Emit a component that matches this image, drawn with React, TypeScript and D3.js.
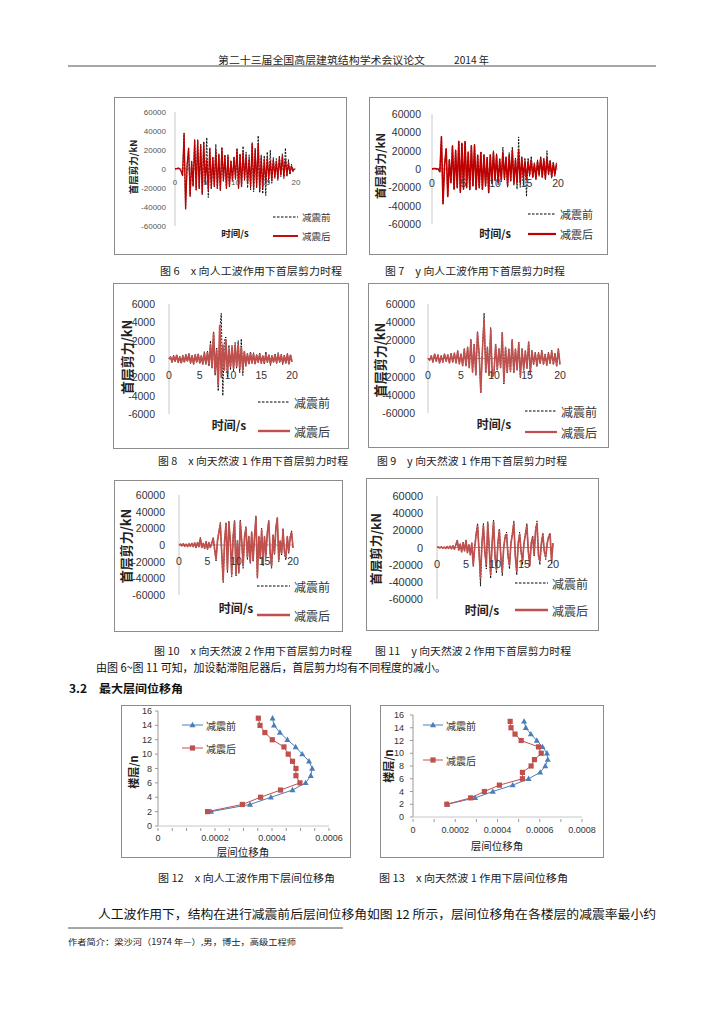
import React from 'react';
import * as d3 from 'd3';

// sampling step of the digitised shear histories (s)
const DT = 0.25;

const shearTicks = [-60000, -40000, -20000, 0, 20000, 40000, 60000];
const shearTicksSmall = [-6000, -4000, -2000, 0, 2000, 4000, 6000];
const timeTicks = [0, 5, 10, 15, 20];
const floorTicks = [0, 2, 4, 6, 8, 10, 12, 14, 16];
const driftTicks12 = [0, 0.0002, 0.0004, 0.0006];
const driftTicks13 = [0, 0.0002, 0.0004, 0.0006, 0.0008];
const seriesNames = ['减震前', '减震后'];

// 图6 x向人工波 (kN)
const f6Before = [0, 500, 1000, 500, -2000, -7000, 38000, -42000, 4000, 22000,
  -29000, 8000, -18000, 31000, -22000, 31000, -21000, 26000, -27000, 29000,
  -16000, 33000, -30000, 22000, -21000, 13000, -19000, 26000, -21000, 16000,
  -23000, 23000, -13000, 15000, -21000, 15000, -19000, 9000, -13000, 13000,
  -11000, 22000, -21000, 16000, -19000, 24000, -12000, 18000, -20000, 15000,
  -22000, 28000, -24000, 22000, -20000, 35000, -25000, 15000, -26000, 14000,
  -28000, 18000, -15000, 20000, -15000, 12000, -10000, 11000, -12000, 14000,
  -8000, 16000, -10000, 22000, -8000, 10000, -6000, 5000, -3000, 1000];
const f6After = [0, 500, 1000, 500, -2000, -7000, 37000, -42000, 4000, 22000,
  -28000, 8000, -18000, 30000, -22000, 30000, -20000, 25000, -26000, 28000,
  -15000, 10000, -22000, 22000, -20000, 12000, -18000, 20000, -20000, 15000,
  -22000, 22000, -12000, 14000, -20000, 14000, -18000, 8000, -12000, 12000,
  -10000, 20000, -20000, 15000, -18000, 18000, -10000, 14000, -15000, 10000,
  -18000, 26000, -20000, 20000, -18000, 27000, -22000, 12000, -20000, 10000,
  -15000, 12000, -10000, 8000, -12000, 10000, -8000, 8000, -10000, 12000,
  -6000, 14000, -8000, 10000, -6000, 6000, -4000, 3000, -2000, 0];

// 图7 y向人工波
const f7Before = [0, 500, 500, 0, 0, -3000, 36000, -38000, 5000, 22000,
  -30000, 10000, -15000, 26000, -22000, 21000, -21000, 31000, -26000, 28000,
  -22000, 30000, -21000, 19000, -23000, 26000, -19000, 27000, -23000, 16000,
  -21000, 19000, -23000, 16000, -19000, 13000, -27000, 16000, -16000, 20000,
  -13000, 17000, -17000, 12000, -14000, 24000, -12000, 14000, -20000, 18000,
  -14000, 24000, -18000, 12000, -22000, 35000, -20000, 14000, -18000, 12000,
  -30000, 12000, -8000, 14000, -10000, 7000, -12000, 10000, -8000, 14000,
  -10000, 12000, -12000, 20000, -7000, 10000, -10000, 8000, -8000, 7000];
const f7After = [0, 500, 500, 0, 0, -3000, 35000, -38000, 5000, 22000,
  -30000, 10000, -15000, 25000, -22000, 20000, -20000, 30000, -25000, 28000,
  -22000, 30000, -20000, 18000, -22000, 25000, -18000, 26000, -22000, 15000,
  -20000, 18000, -22000, 15000, -18000, 12000, -25000, 15000, -15000, 18000,
  -12000, 15000, -15000, 10000, -12000, 18000, -10000, 12000, -18000, 15000,
  -12000, 20000, -15000, 10000, -15000, 20000, -15000, 12000, -10000, 8000,
  -12000, 8000, -6000, 10000, -8000, 5000, -10000, 8000, -6000, 12000,
  -8000, 10000, -10000, 12000, -5000, 8000, -8000, 6000, -6000, 5000];

// 图8 x向天然波1
const f8Before = [0, 300, -400, 400, -300, 500, -400, 300, -500, 400,
  -400, 500, -300, 600, -500, 400, -600, 500, -400, 600,
  -500, 400, -600, 800, -600, 900, -800, 2000, -1000, 3000,
  -1800, 1200, -3500, 3200, 5000, -4000, 2000, 2400, -2000, 1500,
  -1200, 1500, -1300, 1800, -1000, 2000, -1500, 2200, -1800, 800,
  -800, 600, -600, 800, -500, 700, -600, 500, -400, 700,
  -500, 400, -600, 800, -400, 500, -700, 400, -400, 600,
  -500, 700, -400, 500, -600, 400, -500, 600, -600, 500, -300];
const f8After = [0, 200, -300, 300, -200, 400, -300, 200, -400, 300,
  -300, 400, -200, 500, -400, 300, -500, 400, -300, 500,
  -400, 300, -500, 600, -500, 700, -600, 1500, -800, 2800,
  -1500, 1000, -2800, 3600, -2000, 1500, -1200, 2000, -1500, 1000,
  -800, 1200, -1000, 1500, -800, 1500, -1000, 1200, -1200, 800,
  -600, 500, -500, 600, -400, 500, -500, 400, -300, 500,
  -400, 300, -400, 500, -300, 400, -500, 300, -300, 400,
  -400, 500, -300, 400, -400, 300, -400, 500, -500, 400, -300];

// 图9 y向天然波1
const f9Before = [0, -2000, 3000, -4000, 5000, -3000, 4000, -5000, 3000, -4000,
  5000, -3000, 4000, -5000, 6000, -4000, 6000, -5000, 9000, -6000,
  5000, -8000, 11000, -8000, 13000, -10000, 21000, -15000, 16000, -18000,
  30000, 5000, -38000, 12000, 50000, -16000, 13000, -19000, 34000, -21000,
  -16000, 16000, -13000, 11000, -11000, 29000, -28000, 13000, -16000, 11000,
  -15000, 21000, -16000, 11000, -13000, 18000, -21000, 11000, -13000, 9000,
  -11000, 19000, -17000, 9000, -7000, 7000, -9000, 7000, -6000, 9000,
  -7000, 5000, -8000, 7000, -6000, 9000, -7000, 6000, -9000, 11000, -8000];
const f9After = [0, -2000, 3000, -4000, 5000, -3000, 4000, -5000, 3000, -4000,
  5000, -3000, 4000, -5000, 5000, -4000, 6000, -5000, 8000, -6000,
  5000, -8000, 10000, -8000, 12000, -10000, 20000, -15000, 15000, -18000,
  28000, 5000, -37000, 10000, 42000, -15000, 12000, -18000, 32000, -20000,
  -15000, 15000, -12000, 10000, -10000, 28000, -26000, 12000, -15000, 10000,
  -14000, 20000, -15000, 10000, -12000, 17000, -20000, 10000, -12000, 8000,
  -10000, 18000, -16000, 8000, -6000, 6000, -8000, 6000, -5000, 8000,
  -6000, 4000, -7000, 6000, -5000, 8000, -6000, 5000, -8000, 10000, -6000];

// 图10 x向天然波2
const f10Before = [0, 1000, -1000, 1500, -1500, 1000, -2000, 1500, -1500, 2000,
  -2000, 2500, -3000, 3000, -2000, 9000, -3000, 2000, -4000, 4000,
  -5000, 3000, -3000, 2000, 9000, -6000, -19000, 5000, 16000, 27000,
  -10000, -45000, 5000, 27000, -33000, 29000, 5000, -38000, 10000, 30000,
  -37000, 5000, -34000, 30000, 5000, -28000, 10000, 22000, -18000, 10000,
  -22000, 16000, -20000, 10000, 35000, -40000, 10000, -17000, 20000, -25000,
  10000, -14000, 16000, 30000, -12000, -28000, 12000, -12000, 22000, 33000,
  -20000, 5000, -12000, 20000, -10000, -18000, 10000, -10000, 10000, 17000, -4000];
const f10After = [0, 1000, -1000, 1500, -1500, 1000, -2000, 1500, -1500, 2000,
  -2000, 2500, -3000, 3000, -2000, 8000, -3000, 2000, -4000, 4000,
  -5000, 3000, -3000, 2000, 8000, -5000, -17000, 5000, 15000, 25000,
  -10000, -42000, 5000, 25000, -30000, 27000, 5000, -35000, 10000, 28000,
  -35000, 5000, -32000, 28000, 5000, -25000, 10000, 20000, -15000, 10000,
  -20000, 15000, -18000, 10000, 33000, -38000, 10000, -15000, 18000, -22000,
  10000, -12000, 15000, 28000, -10000, -25000, 12000, -10000, 20000, 32000,
  -18000, 5000, -10000, 18000, -8000, -15000, 10000, -8000, 8000, 15000, -3000];

// 图11 y向天然波2
const f11Before = [0, 500, -500, 800, -800, 500, -1000, 1000, -1000, 1500,
  -1500, 2000, -2000, 3000, 9000, -3000, 4000, -5000, 6000, -4000,
  9000, -6000, 3000, -9000, 5000, -22000, 0, 17000, 28000, -5000,
  -45000, 5000, 28000, -5000, -25000, 30000, 0, -36000, 5000, 32000,
  -10000, -30000, 5000, 22000, -10000, -33000, 0, 14000, 18000, -10000,
  -25000, 5000, 17000, 31000, -10000, -32000, 5000, 18000, -5000, -20000,
  5000, 17000, 28000, -5000, -22000, 5000, 14000, -10000, 22000, 31000,
  -10000, -20000, 5000, 17000, -5000, -14000, 5000, 14000, 17000, -18000, 5000];
const f11After = [0, 500, -500, 800, -800, 500, -1000, 1000, -1000, 1500,
  -1500, 2000, -2000, 3000, 8000, -3000, 4000, -5000, 5000, -4000,
  8000, -6000, 3000, -8000, 5000, -20000, 0, 15000, 25000, -5000,
  -35000, 5000, 25000, -5000, -20000, 28000, 0, -32000, 5000, 30000,
  -10000, -25000, 5000, 20000, -10000, -28000, 0, 12000, 15000, -10000,
  -20000, 5000, 15000, 28000, -10000, -28000, 5000, 15000, -5000, -15000,
  5000, 15000, 25000, -5000, -20000, 5000, 12000, -8000, 20000, 28000,
  -10000, -15000, 5000, 15000, -5000, -10000, 5000, 12000, 15000, -15000, 5000];

// 层间位移角
const floors = [15, 14, 13, 12, 11, 10, 9, 8, 7, 6, 5, 4, 3, 2];
const d12Before = [0.000402, 0.000407, 0.000428, 0.000454, 0.000483, 0.000506, 0.00053,
  0.000541, 0.000536, 0.000518, 0.000472, 0.000396, 0.000323, 0.000186];
const d12After = [0.000352, 0.000358, 0.000375, 0.000401, 0.000442, 0.000457, 0.000472,
  0.000484, 0.000484, 0.000498, 0.00043, 0.00036, 0.000296, 0.000174];
const d13Before = [0.000526, 0.000534, 0.000558, 0.000586, 0.000613, 0.000634, 0.000638,
  0.000626, 0.000602, 0.000547, 0.000472, 0.000378, 0.000294, 0.000163];
const d13After = [0.00046, 0.000464, 0.000483, 0.000512, 0.000594, 0.000607, 0.000575,
  0.000559, 0.000518, 0.000518, 0.000409, 0.000338, 0.000273, 0.00016];

const SANS = '"Liberation Sans", Arial, sans-serif';
const CJK = '"Noto Sans CJK SC", sans-serif';

type TimeCfg = {
  box: [number, number, number, number];
  x0: number; x1: number; yTop: number; yBot: number;
  ticks: number[];
  tickSize: number; tickGap: number; xTickDy: number; tickColor: string;
  yLab: [number, number, number];
  xLab: [number, number, number];
  leg: [number, number, number, number, number];
  afterColor: string; afterWidth: number;
  before: number[]; after: number[];
};

function TimeChart({ c }: { c: TimeCfg }) {
  const [bx, by, bw, bh] = c.box;
  const yMax = d3.max(c.ticks) as number;
  const x = d3.scaleLinear().domain([0, 20]).range([c.x0, c.x1]);
  const y = d3.scaleLinear().domain([-yMax, yMax]).range([c.yBot, c.yTop]);
  const line = d3.line<number>().x((_, i) => x(i * DT)).y((d) => y(d));
  const [lx1, lx2, ly1, ly2, ls] = c.leg;
  return (
    <g>
      <rect x={bx + 0.5} y={by + 0.5} width={bw} height={bh} fill="#fff" stroke="#8c8c8c" />
      <line x1={c.x0} x2={c.x0} y1={c.yTop} y2={c.yBot} stroke="#c8c8c8" />
      <line x1={c.x0} x2={c.x1} y1={y(0)} y2={y(0)} stroke="#9a9a9a" />
      {c.ticks.map((t) => (
        <text key={t} x={c.x0 - c.tickGap} y={y(t)} textAnchor="end" dominantBaseline="central"
          fontFamily={SANS} fontSize={c.tickSize} fill={c.tickColor}>{t}</text>
      ))}
      <path d={line(c.before) || ''} fill="none" stroke="#000" strokeWidth={0.9} strokeDasharray="2,1.2" />
      <path d={line(c.after) || ''} fill="none" stroke={c.afterColor} strokeWidth={c.afterWidth} strokeLinejoin="round" />
      {timeTicks.map((t) => (
        <text key={t} x={x(t)} y={y(0) + c.xTickDy} textAnchor="middle" dominantBaseline="central"
          fontFamily={SANS} fontSize={c.tickSize} fill={c.tickColor}>{t}</text>
      ))}
      <text transform={`translate(${c.yLab[0]},${c.yLab[1]}) rotate(-90)`} textAnchor="middle"
        dominantBaseline="central" fontFamily={CJK} fontWeight={700} fontSize={c.yLab[2]} fill="#222">首层剪力/kN</text>
      <text x={c.xLab[0]} y={c.xLab[1]} textAnchor="middle" dominantBaseline="central"
        fontFamily={CJK} fontWeight={700} fontSize={c.xLab[2]} fill="#222">时间/s</text>
      <line x1={lx1} x2={lx2} y1={ly1} y2={ly1} stroke="#000" strokeWidth={1.2} strokeDasharray="2.5,1.5" />
      <text x={lx2 + 4} y={ly1} dominantBaseline="central" fontFamily={CJK} fontSize={ls} fill="#333">{seriesNames[0]}</text>
      <line x1={lx1} x2={lx2} y1={ly2} y2={ly2} stroke={c.afterColor} strokeWidth={c.afterWidth + 0.6} />
      <text x={lx2 + 4} y={ly2} dominantBaseline="central" fontFamily={CJK} fontSize={ls} fill="#333">{seriesNames[1]}</text>
    </g>
  );
}

type DriftCfg = {
  box: [number, number, number, number];
  x0: number; x1: number; yTop: number; yBot: number;
  xTicks: number[]; minorStep: number;
  tickSize: number; tickGap: number; xTickDy: number;
  yLab: [number, number, number];
  xLab: [number, number, number];
  leg: [number, number, number, number, number];
  before: number[]; after: number[];
};

const BLUE = '#4a7ebb';
const RED = '#c0504d';

function Tri({ cx, cy }: { cx: number; cy: number }) {
  return <path d={`M${cx},${cy - 3.2}L${cx + 3},${cy + 2.2}L${cx - 3},${cy + 2.2}Z`} fill={BLUE} />;
}
function Sq({ cx, cy }: { cx: number; cy: number }) {
  return <rect x={cx - 2.6} y={cy - 2.6} width={5.2} height={5.2} fill={RED} />;
}

function DriftChart({ c }: { c: DriftCfg }) {
  const [bx, by, bw, bh] = c.box;
  const xMax = d3.max(c.xTicks) as number;
  const x = d3.scaleLinear().domain([0, xMax]).range([c.x0, c.x1]);
  const y = d3.scaleLinear().domain([0, 16]).range([c.yBot, c.yTop]);
  const line = d3.line<number>().x((d) => x(d)).y((_, i) => y(floors[i]));
  const minor = d3.range(0, xMax + 1e-9, c.minorStep);
  const [lx1, lx2, ly1, ly2, ls] = c.leg;
  return (
    <g>
      <rect x={bx + 0.5} y={by + 0.5} width={bw} height={bh} fill="#fff" stroke="#8c8c8c" />
      <line x1={c.x0} x2={c.x0} y1={c.yTop} y2={c.yBot} stroke="#9a9a9a" />
      <line x1={c.x0} x2={c.x1} y1={c.yBot} y2={c.yBot} stroke="#c8c8c8" />
      {floorTicks.map((t) => (
        <g key={t}>
          <line x1={c.x0 - 3} x2={c.x0} y1={y(t)} y2={y(t)} stroke="#9a9a9a" />
          <text x={c.x0 - c.tickGap} y={y(t)} textAnchor="end" dominantBaseline="central"
            fontFamily={SANS} fontSize={c.tickSize} fill="#333">{t}</text>
        </g>
      ))}
      {minor.map((m, i) => (
        <line key={i} x1={x(m)} x2={x(m)} y1={c.yBot + 2} y2={c.yBot + 5} stroke="#9a9a9a" />
      ))}
      {c.xTicks.map((t) => (
        <text key={t} x={x(t)} y={c.yBot + c.xTickDy} textAnchor="middle" dominantBaseline="central"
          fontFamily={SANS} fontSize={c.tickSize} fill="#333">{t}</text>
      ))}
      <path d={line(c.before) || ''} fill="none" stroke={BLUE} strokeWidth={1} />
      {c.before.map((d, i) => <Tri key={i} cx={x(d)} cy={y(floors[i])} />)}
      <path d={line(c.after) || ''} fill="none" stroke={RED} strokeWidth={1} />
      {c.after.map((d, i) => <Sq key={i} cx={x(d)} cy={y(floors[i])} />)}
      <text transform={`translate(${c.yLab[0]},${c.yLab[1]}) rotate(-90)`} textAnchor="middle"
        dominantBaseline="central" fontFamily={CJK} fontWeight={700} fontSize={c.yLab[2]} fill="#222">楼层/n</text>
      <text x={c.xLab[0]} y={c.xLab[1]} textAnchor="middle" dominantBaseline="central"
        fontFamily={CJK} fontSize={c.xLab[2]} fill="#222">层间位移角</text>
      <line x1={lx1} x2={lx2} y1={ly1} y2={ly1} stroke={BLUE} />
      <Tri cx={(lx1 + lx2) / 2} cy={ly1} />
      <text x={lx2 + 3} y={ly1} dominantBaseline="central" fontFamily={CJK} fontSize={ls} fill="#333">{seriesNames[0]}</text>
      <line x1={lx1} x2={lx2} y1={ly2} y2={ly2} stroke={RED} />
      <Sq cx={(lx1 + lx2) / 2} cy={ly2} />
      <text x={lx2 + 3} y={ly2} dominantBaseline="central" fontFamily={CJK} fontSize={ls} fill="#333">{seriesNames[1]}</text>
    </g>
  );
}

const charts: TimeCfg[] = [
  { box: [114, 97, 232, 157], x0: 175, x1: 296, yTop: 112, yBot: 226, ticks: shearTicks,
    tickSize: 8, tickGap: 9, xTickDy: 13, tickColor: '#555', yLab: [133, 167, 9.5], xLab: [235, 233, 9.5],
    leg: [273, 298, 217, 236, 9.5], afterColor: '#c00000', afterWidth: 1.3, before: f6Before, after: f6After },
  { box: [369, 97, 238, 157], x0: 432, x1: 558, yTop: 114, yBot: 224, ticks: shearTicks,
    tickSize: 10.5, tickGap: 11, xTickDy: 14, tickColor: '#333', yLab: [380, 166, 11.5], xLab: [495, 233, 11],
    leg: [528, 556, 214, 234, 11], afterColor: '#c00000', afterWidth: 1.6, before: f7Before, after: f7After },
  { box: [113, 283, 235, 165], x0: 169, x1: 292, yTop: 304, yBot: 414, ticks: shearTicksSmall,
    tickSize: 10.5, tickGap: 14, xTickDy: 16, tickColor: '#333', yLab: [126, 357, 13], xLab: [229, 424, 12],
    leg: [258, 290, 402, 431, 12], afterColor: RED, afterWidth: 1.8, before: f8Before, after: f8After },
  { box: [368, 283, 240, 164], x0: 428, x1: 560, yTop: 304, yBot: 413, ticks: shearTicks,
    tickSize: 10.5, tickGap: 13, xTickDy: 16, tickColor: '#333', yLab: [379, 360, 13], xLab: [494, 423, 12],
    leg: [525, 557, 411, 432, 12], afterColor: RED, afterWidth: 1.6, before: f9Before, after: f9After },
  { box: [114, 480, 228, 151], x0: 179, x1: 293, yTop: 495, yBot: 595, ticks: shearTicks,
    tickSize: 10.5, tickGap: 14, xTickDy: 16, tickColor: '#333', yLab: [125, 546, 13], xLab: [236, 607, 12],
    leg: [257, 290, 586, 615, 12], afterColor: RED, afterWidth: 1.7, before: f10Before, after: f10After },
  { box: [366, 478, 232, 152], x0: 437, x1: 553, yTop: 496, yBot: 599, ticks: shearTicks,
    tickSize: 11, tickGap: 14, xTickDy: 16, tickColor: '#333', yLab: [375, 549, 12.5], xLab: [482, 609, 12],
    leg: [515, 548, 583, 610, 12], afterColor: RED, afterWidth: 1.7, before: f11Before, after: f11After },
];

const drifts: DriftCfg[] = [
  { box: [121, 705, 229, 152], x0: 158, x1: 329, yTop: 711, yBot: 826, xTicks: driftTicks12, minorStep: 0.00005,
    tickSize: 9, tickGap: 6, xTickDy: 12, yLab: [133, 772, 11], xLab: [243, 851, 10.5],
    leg: [182, 203, 725, 748, 10], before: d12Before, after: d12After },
  { box: [380, 705, 223, 152], x0: 413, x1: 582, yTop: 715, yBot: 817, xTicks: driftTicks13, minorStep: 0.0001,
    tickSize: 9, tickGap: 9, xTickDy: 13, yLab: [388, 766, 11], xLab: [497, 845, 10.5],
    leg: [423, 443, 725, 760, 10], before: d13Before, after: d13After },
];

const captions: [string, number, number, number][] = [
  ['图 6　x 向人工波作用下首层剪力时程', 160, 342, 270],
  ['图 7　y 向人工波作用下首层剪力时程', 385, 565, 270],
  ['图 8　x 向天然波 1 作用下首层剪力时程', 158, 348, 460],
  ['图 9　y 向天然波 1 作用下首层剪力时程', 377, 567, 460],
  ['图 10　x 向天然波 2 作用下首层剪力时程', 154, 352, 650],
  ['图 11　y 向天然波 2 作用下首层剪力时程', 375, 571, 650],
  ['图 12　x 向人工波作用下层间位移角', 158, 335, 877],
  ['图 13　x 向天然波 1 作用下层间位移角', 379, 568, 877],
];

export default function App() {
  return (
    <svg width={724} height={1024} style={{ position: 'absolute', left: 0, top: 0, background: '#fff' }}>
      <rect width={724} height={1024} fill="#fff" />
      <text x={218} y={59} textLength={207} lengthAdjust="spacingAndGlyphs" dominantBaseline="central"
        fontFamily={CJK} fontSize={10} fill="#222">第二十三届全国高层建筑结构学术会议论文</text>
      <text x={454} y={59} textLength={35} lengthAdjust="spacingAndGlyphs" dominantBaseline="central"
        fontFamily={CJK} fontSize={10} fill="#222">2014 年</text>
      <line x1={68} x2={656} y1={66} y2={66} stroke="#222" strokeWidth={0.8} />

      {charts.map((c, i) => <TimeChart key={i} c={c} />)}
      {drifts.map((c, i) => <DriftChart key={i} c={c} />)}

      {captions.map(([t, x1, x2, yy]) => (
        <text key={t} x={x1} y={yy} textLength={x2 - x1} lengthAdjust="spacingAndGlyphs"
          dominantBaseline="central" fontFamily={CJK} fontSize={10} fill="#222">{t}</text>
      ))}

      <text x={96} y={667} textLength={350} lengthAdjust="spacingAndGlyphs" dominantBaseline="central"
        fontFamily={CJK} fontSize={11.5} fill="#111">由图 6~图 11 可知，加设黏滞阻尼器后，首层剪力均有不同程度的减小。</text>
      <text x={69} y={688} textLength={114} lengthAdjust="spacingAndGlyphs" dominantBaseline="central"
        fontFamily={CJK} fontWeight={700} fontSize={11.5} fill="#111">3.2　最大层间位移角</text>

      <text x={98} y={913} textLength={558} lengthAdjust="spacingAndGlyphs" dominantBaseline="central"
        fontFamily={CJK} fontSize={12} fill="#111">人工波作用下，结构在进行减震前后层间位移角如图 12 所示，层间位移角在各楼层的减震率最小约</text>
      <line x1={68} x2={343} y1={928} y2={928} stroke="#222" strokeWidth={0.8} />
      <text x={68} y={941} textLength={228} lengthAdjust="spacingAndGlyphs" dominantBaseline="central"
        fontFamily={CJK} fontSize={8.5} fill="#222">作者简介：梁沙河（1974 年—）,男，博士，高级工程师</text>
    </svg>
  );
}
